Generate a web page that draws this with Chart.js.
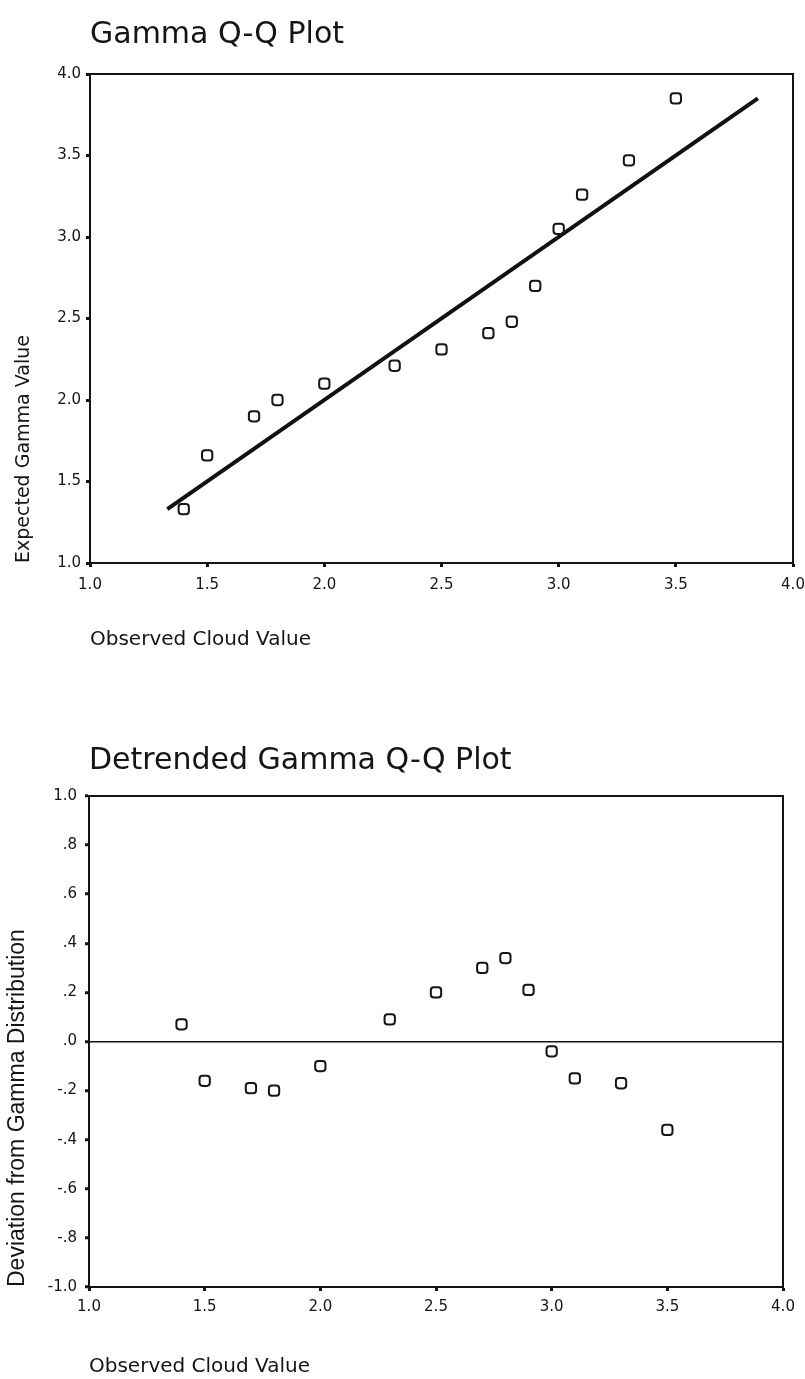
<!DOCTYPE html>
<html>
<head>
<meta charset="utf-8">
<title>Gamma Q-Q Plot</title>
<script src="https://cdn.jsdelivr.net/npm/chart.js@4"></script>
<style>
  html, body { margin: 0; padding: 0; background: #fff; }
  .panel { position: absolute; left: 0; width: 805px; }
  #qqPanel { top: 0; height: 690px; }
  #detrendPanel { top: 700px; height: 679px; }
</style>
</head>
<body>
<div class="panel" id="qqPanel"><canvas id="qqChart"></canvas></div>
<div class="panel" id="detrendPanel"><canvas id="detrendChart"></canvas></div>
<script>
// Observed cloud values and their gamma quantiles
const observed = [1.4, 1.5, 1.7, 1.8, 2.0, 2.3, 2.5, 2.7, 2.8, 2.9, 3.0, 3.1, 3.3, 3.5];
const expectedGamma = [1.33, 1.66, 1.90, 2.00, 2.10, 2.21, 2.31, 2.41, 2.48, 2.70, 3.05, 3.26, 3.47, 3.85];
const deviation = [0.07, -0.16, -0.19, -0.20, -0.10, 0.09, 0.20, 0.30, 0.34, 0.21, -0.04, -0.15, -0.17, -0.36];

// Reference line y = x
const refLine = [1.33, 3.85];

// Axis ticks
const xTicks = [1.0, 1.5, 2.0, 2.5, 3.0, 3.5, 4.0];
const qqYTicks = [1.0, 1.5, 2.0, 2.5, 3.0, 3.5, 4.0];
const devYTicks = [-1.0, -0.8, -0.6, -0.4, -0.2, 0.0, 0.2, 0.4, 0.6, 0.8, 1.0];
const devYLabels = ['-1.0', '-.8', '-.6', '-.4', '-.2', '.0', '.2', '.4', '.6', '.8', '1.0'];

const ink = '#151515';

// Title drawn at the left edge of the plot area, plus top/right frame lines
const framePlugin = {
  id: 'frame',
  afterDraw(chart, args, opts) {
    const { ctx, chartArea: a } = chart;
    ctx.save();
    ctx.strokeStyle = ink;
    ctx.lineWidth = 2;
    ctx.beginPath();
    ctx.moveTo(a.left, a.top);
    ctx.lineTo(a.right, a.top);
    ctx.lineTo(a.right, a.bottom);
    ctx.stroke();
    ctx.fillStyle = ink;
    ctx.font = '30px "DejaVu Sans"';
    ctx.textBaseline = 'alphabetic';
    ctx.textAlign = 'left';
    ctx.fillText(opts.text, a.left, opts.baseline);
    ctx.restore();
  }
};

function fixedTicks(values) {
  return scale => { scale.ticks = values.map(v => ({ value: v })); };
}

// fixed axis box size, no extra room for overhanging labels
function fitX(height) {
  return s => { s.height = height; s.paddingLeft = 0; s.paddingRight = 0; };
}
function fitY(width) {
  return s => { s.width = width; s.paddingTop = 0; s.paddingBottom = 0; };
}

const marker = {
  pointStyle: 'rectRounded',
  pointRadius: 6,
  pointHoverRadius: 6,
  pointBorderWidth: 2,
  pointBorderColor: ink,
  pointBackgroundColor: 'rgba(0,0,0,0)'
};

const tickFont = { family: 'DejaVu Sans', size: 15 };

// Gamma Q-Q plot
new Chart(document.getElementById('qqChart'), {
  type: 'scatter',
  data: {
    datasets: [
      Object.assign({
        label: 'Observed',
        data: observed.map((x, i) => ({ x: x, y: expectedGamma[i] }))
      }, marker),
      {
        label: 'Reference',
        data: refLine.map(v => ({ x: v, y: v })),
        showLine: true,
        borderColor: '#111',
        borderWidth: 4,
        pointRadius: 0
      }
    ]
  },
  plugins: [framePlugin],
  options: {
    responsive: true,
    maintainAspectRatio: false,
    animation: false,
    layout: { padding: { top: 74, right: 12, left: 0, bottom: 0 } },
    plugins: {
      legend: { display: false },
      tooltip: { enabled: false },
      frame: { text: 'Gamma Q-Q Plot', baseline: 43 }
    },
    scales: {
      x: {
        type: 'linear', min: 1, max: 4,
        afterBuildTicks: fixedTicks(xTicks),
        afterFit: fitX(127),
        border: { color: ink, width: 2 },
        grid: { drawOnChartArea: false, tickLength: 4, tickWidth: 3, tickColor: ink },
        ticks: { color: ink, font: tickFont, padding: 9, maxRotation: 0, callback: v => v.toFixed(1) },
        title: {
          display: true, text: 'Observed Cloud Value', align: 'start', color: ink,
          font: { family: 'DejaVu Sans', size: 20 }, padding: { top: 0, bottom: 38 }
        }
      },
      y: {
        type: 'linear', min: 1, max: 4,
        afterBuildTicks: fixedTicks(qqYTicks),
        afterFit: fitY(90),
        border: { color: ink, width: 2 },
        grid: { drawOnChartArea: false, tickLength: 4, tickWidth: 3, tickColor: ink },
        ticks: { color: ink, font: tickFont, padding: 5, callback: v => v.toFixed(1) },
        title: {
          display: true, text: 'Expected Gamma Value', align: 'start', color: ink,
          font: { family: 'DejaVu Sans', size: 19 }, padding: { top: 13, bottom: 0 }
        }
      }
    }
  }
});

// Detrended Q-Q plot
new Chart(document.getElementById('detrendChart'), {
  type: 'scatter',
  data: {
    datasets: [
      Object.assign({
        label: 'Deviation',
        data: observed.map((x, i) => ({ x: x, y: deviation[i] }))
      }, marker)
    ]
  },
  plugins: [framePlugin],
  options: {
    responsive: true,
    maintainAspectRatio: false,
    animation: false,
    layout: { padding: { top: 96, right: 22, left: 0, bottom: 0 } },
    plugins: {
      legend: { display: false },
      tooltip: { enabled: false },
      frame: { text: 'Detrended Gamma Q-Q Plot', baseline: 69 }
    },
    scales: {
      x: {
        type: 'linear', min: 1, max: 4,
        afterBuildTicks: fixedTicks(xTicks),
        afterFit: fitX(92),
        border: { color: ink, width: 2 },
        grid: { drawOnChartArea: false, tickLength: 4, tickWidth: 3, tickColor: ink },
        ticks: { color: ink, font: tickFont, padding: 7, maxRotation: 0, callback: v => v.toFixed(1) },
        title: {
          display: true, text: 'Observed Cloud Value', align: 'start', color: ink,
          font: { family: 'DejaVu Sans', size: 20 }, padding: { top: 0, bottom: 0 }
        }
      },
      y: {
        type: 'linear', min: -1, max: 1,
        afterBuildTicks: fixedTicks(devYTicks),
        afterFit: fitY(89),
        border: { color: ink, width: 2 },
        grid: {
          drawOnChartArea: true,
          color: c => (c.tick && Math.abs(c.tick.value) < 1e-9) ? ink : 'rgba(0,0,0,0)',
          lineWidth: 1.5,
          tickLength: 4, tickWidth: 3, tickColor: ink
        },
        ticks: {
          color: ink, font: tickFont, padding: 8,
          callback: (v, i) => devYLabels[i]
        },
        title: {
          display: true, text: 'Deviation from Gamma Distribution', align: 'start', color: ink,
          font: { family: 'Liberation Sans', size: 23 }, padding: { top: 4, bottom: 0 }
        }
      }
    }
  }
});
</script>
</body>
</html>
